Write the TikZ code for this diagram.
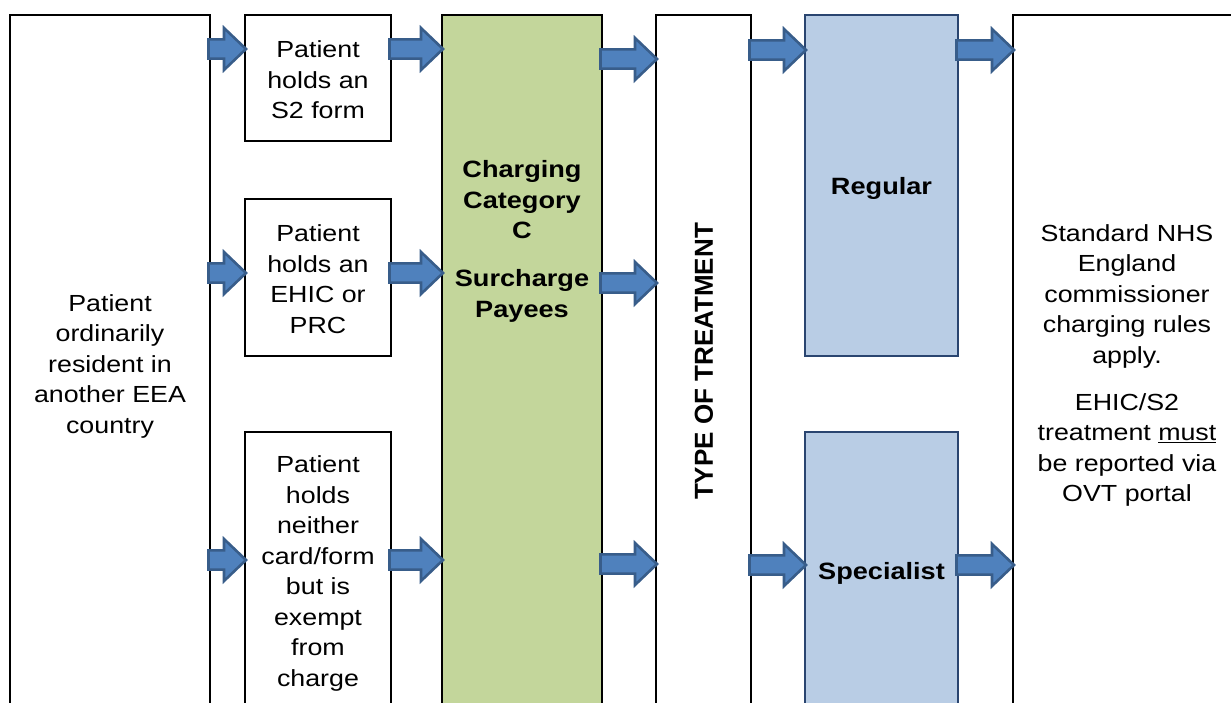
\documentclass[tikz,border=0pt]{standalone}
\usepackage{fontspec}
\setmainfont{Liberation Sans}[FakeStretch=1.15]
\newfontfamily\uprightsans{Liberation Sans}
\usetikzlibrary{calc}

\definecolor{catgreen}{HTML}{C3D69B}
\definecolor{typefill}{HTML}{B9CDE5}
\definecolor{typeline}{HTML}{2A4570}
\definecolor{arrowfill}{HTML}{4F81BD}
\definecolor{arrowline}{HTML}{385D8A}

\tikzset{
  box/.style={draw=black, line width=2pt, fill=white, anchor=north west,
              inner sep=0pt, outer sep=0pt},
  greenbox/.style={box, fill=catgreen},
  bluebox/.style={box, fill=typefill, draw=typeline, line width=1.5pt},
  label/.style={align=center, inner sep=0pt,
                font=\fontsize{23.3}{30.5}\selectfont},
  boldlabel/.style={label, font=\fontsize{23.6}{30.5}\selectfont\bfseries},
  barrow/.style={fill=arrowfill, draw=arrowline, line width=2.6pt,
                 line join=miter}
}

% block arrow from node #1 to node #2 at height #3
\newcommand\blockarrow[3]{%
  \draw[barrow]
    ($(#1.east |- 0,#3)+(-1.5,-9.6)$) --
    ($(#2.west |- 0,#3)+(-21,-9.6)$) --
    ($(#2.west |- 0,#3)+(-21,-21)$) --
    ($(#2.west |- 0,#3)+(1,0)$) --
    ($(#2.west |- 0,#3)+(-21,21)$) --
    ($(#2.west |- 0,#3)+(-21,9.6)$) --
    ($(#1.east |- 0,#3)+(-1.5,9.6)$) -- cycle;}

\begin{document}
\begin{tikzpicture}[x=1pt, y=-1pt]
  \useasboundingbox (0,0) rectangle (1231,702);
  \clip (0,0) rectangle (1231,702);

  % columns of boxes
  \node[box, minimum width=200, minimum height=720] (home) at (10,15) {};
  \node[box, minimum width=146, minimum height=126] (s2) at (245,15) {};
  \node[box, minimum width=146, minimum height=157] (ehic) at (245,199) {};
  \node[box, minimum width=146, minimum height=300] (neither) at (245,432) {};
  \node[greenbox, minimum width=160, minimum height=720] (catc) at (442,15) {};
  \node[box, minimum width=95, minimum height=720] (tot) at (656,15) {};
  \node[bluebox, minimum width=153, minimum height=341] (regular) at (805,15) {};
  \node[bluebox, minimum width=153, minimum height=300] (specialist) at (805,432) {};
  \node[box, minimum width=260, minimum height=720] (rules) at (1013,15) {};

  % texts
  \node[label] (homeT) at (110,366) {Patient\\ordinarily\\resident in\\another EEA\\country};
  \node[label] (s2T) at (318,80) {Patient\\holds an\\S2 form};
  \node[label] (ehicT) at (318,279) {Patient\\holds an\\EHIC or\\PRC};
  \node[label] (neitherT) at (318,573.5) {Patient\\holds\\neither\\card/form\\but is\\exempt\\from\\charge};
  \node[boldlabel] (catcT) at (522,241.5) {Charging\\Category\\C\\[17.5pt]Surcharge\\Payees};
  \node[inner sep=0pt, rotate=90, font=\fontsize{26}{30}\selectfont\uprightsans\bfseries]
    (totT) at (704,361.5) {TYPE OF TREATMENT};
  \node[boldlabel] (regularT) at (881.5,188) {Regular};
  \node[boldlabel] (specialistT) at (881.5,573) {Specialist};
  \node[label] (rulesT) at (1127,365.6) {Standard NHS\\England\\commissioner\\charging rules\\apply.\\[16.5pt]EHIC/S2\\treatment \underline{must}\\be reported via\\OVT portal};

  % connectors
  \blockarrow{home}{s2}{49}
  \blockarrow{home}{ehic}{273}
  \blockarrow{home}{neither}{560}
  \blockarrow{s2}{catc}{49}
  \blockarrow{ehic}{catc}{273}
  \blockarrow{neither}{catc}{560}
  \blockarrow{catc}{tot}{59}
  \blockarrow{catc}{tot}{283}
  \blockarrow{catc}{tot}{564}
  \blockarrow{tot}{regular}{50}
  \blockarrow{tot}{specialist}{565}
  \blockarrow{regular}{rules}{50}
  \blockarrow{specialist}{rules}{565}
\end{tikzpicture}
\end{document}
